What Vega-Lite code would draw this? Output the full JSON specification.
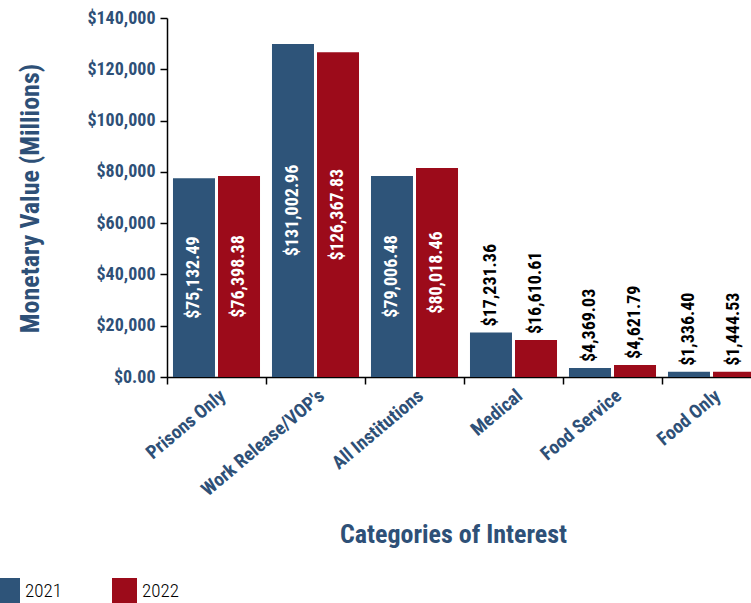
{
  "$schema": "https://vega.github.io/schema/vega-lite/v6.json",
  "autosize": {"type": "none"},
  "width": 584,
  "height": 359,
  "padding": {"left": 167, "top": 18, "right": 0, "bottom": 226},
  "background": "white",
  "config": {
    "view": {"stroke": null},
    "font": "Roboto Condensed, Liberation Sans Narrow, DejaVu Sans Condensed, sans-serif"
  },
  "data": {
    "values": [
      {"category": "Prisons Only", "year": "2021", "value": 77500, "label": "$75,132.49", "inside": "yes"},
      {"category": "Prisons Only", "year": "2022", "value": 78400, "label": "$76,398.38", "inside": "yes"},
      {"category": "Work Release/VOP's", "year": "2021", "value": 129900, "label": "$131,002.96", "inside": "yes"},
      {"category": "Work Release/VOP's", "year": "2022", "value": 126600, "label": "$126,367.83", "inside": "yes"},
      {"category": "All Institutions", "year": "2021", "value": 78400, "label": "$79,006.48", "inside": "yes"},
      {"category": "All Institutions", "year": "2022", "value": 81500, "label": "$80,018.46", "inside": "yes"},
      {"category": "Medical", "year": "2021", "value": 17400, "label": "$17,231.36", "inside": "no"},
      {"category": "Medical", "year": "2022", "value": 14400, "label": "$16,610.61", "inside": "no"},
      {"category": "Food Service", "year": "2021", "value": 3500, "label": "$4,369.03", "inside": "no"},
      {"category": "Food Service", "year": "2022", "value": 4700, "label": "$4,621.79", "inside": "no"},
      {"category": "Food Only", "year": "2021", "value": 2000, "label": "$1,336.40", "inside": "no"},
      {"category": "Food Only", "year": "2022", "value": 2000, "label": "$1,444.53", "inside": "no"}
    ]
  },
  "encoding": {
    "x": {
      "field": "category",
      "type": "nominal",
      "sort": null,
      "scale": {"range": [0, 594], "paddingInner": 0, "paddingOuter": 0},
      "axis": {
        "title": "Categories of Interest",
        "titleFontSize": 26,
        "titleFontWeight": "bold",
        "titleColor": "#2E5077",
        "titleX": 286,
        "titleY": 165,
        "titleBaseline": "alphabetic",
        "labelAngle": -40,
        "labelFontSize": 19,
        "labelFontWeight": "bold",
        "labelColor": "#2E5077",
        "labelPadding": 2,
        "domainColor": "black",
        "domainWidth": 1.5,
        "tickColor": "black",
        "tickWidth": 1.5,
        "tickSize": 7,
        "tickBand": "extent",
        "grid": false
      }
    },
    "xOffset": {
      "field": "year",
      "type": "nominal",
      "scale": {"paddingInner": 0.067, "paddingOuter": 0.133}
    }
  },
  "layer": [
    {
      "mark": {"type": "bar"},
      "encoding": {
        "y": {
          "field": "value",
          "type": "quantitative",
          "scale": {"domain": [0, 140000], "nice": false},
          "axis": {
            "title": "Monetary Value (Millions)",
            "titleFontSize": 26,
            "titleFontWeight": "bold",
            "titleColor": "#2E5077",
            "titleX": -137,
            "titleY": 180,
            "titleBaseline": "middle",
            "values": [0, 20000, 40000, 60000, 80000, 100000, 120000, 140000],
            "labelExpr": "datum.value == 0 ? '$0.00' : '$' + format(datum.value, ',')",
            "labelFontSize": 18,
            "labelFontWeight": "bold",
            "labelColor": "#2E5077",
            "labelPadding": 5,
            "domainColor": "black",
            "domainWidth": 1.5,
            "tickColor": "black",
            "tickWidth": 1.5,
            "tickSize": 7,
            "grid": false
          }
        },
        "color": {
          "field": "year",
          "type": "nominal",
          "scale": {"domain": ["2021", "2022"], "range": ["#2E5479", "#9C0B1A"]},
          "legend": {
            "title": null,
            "orient": "none",
            "legendX": -172,
            "legendY": 560,
            "direction": "horizontal",
            "symbolType": "square",
            "symbolSize": 625,
            "symbolStrokeWidth": 0,
            "symbolOpacity": 1,
            "labelFontSize": 19,
            "labelColor": "black",
            "labelFontWeight": 300,
            "labelOffset": 5,
            "columnPadding": 50,
            "padding": 0
          }
        }
      }
    },
    {
      "transform": [
        {"filter": "datum.inside == 'yes'"},
        {"calculate": "datum.value / 2", "as": "mid"}
      ],
      "mark": {"type": "text", "angle": 270, "align": "center", "baseline": "middle", "fontSize": 18, "fontWeight": "bold", "color": "white"},
      "encoding": {
        "y": {"field": "mid", "type": "quantitative"},
        "text": {"field": "label"}
      }
    },
    {
      "transform": [{"filter": "datum.inside == 'no'"}],
      "mark": {"type": "text", "angle": 270, "align": "left", "baseline": "middle", "dx": 6, "fontSize": 18, "fontWeight": "bold", "color": "black"},
      "encoding": {
        "y": {"field": "value", "type": "quantitative"},
        "text": {"field": "label"}
      }
    }
  ]
}
